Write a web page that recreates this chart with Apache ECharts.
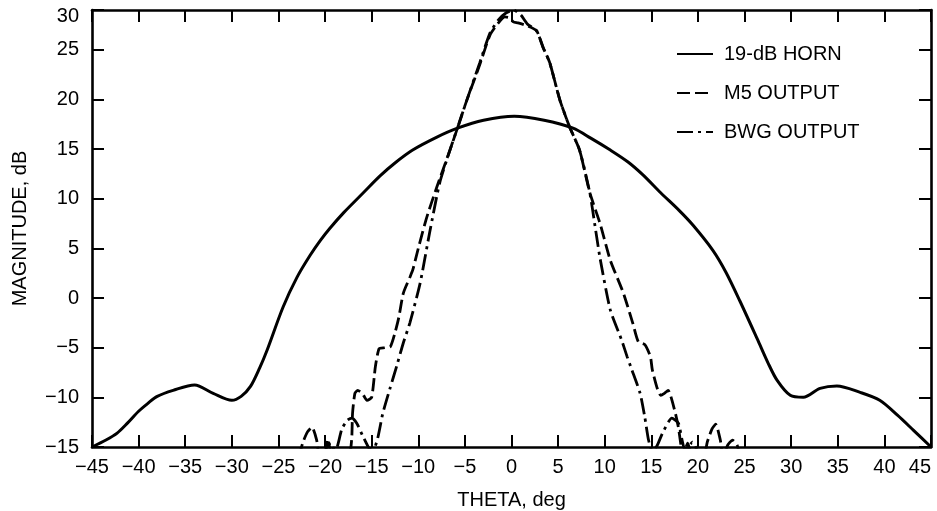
<!DOCTYPE html>
<html>
<head>
<meta charset="utf-8">
<script src="https://cdn.jsdelivr.net/npm/echarts@6/dist/echarts.min.js"></script>
<style>
  html, body { margin: 0; padding: 0; background: #fff; }
  #chart { width: 937px; height: 511px; }
</style>
</head>
<body>
<div id="chart"></div>
<script>
// 19-dB horn pattern (solid)
var hornTheta = [-45, -43.5, -42.3, -41.2, -40, -39, -38, -36.3, -34, -32, -30, -29, -28, -27, -26.2, -24.5, -23, -21.6, -20.5, -19.5, -18, -16, -14.1, -12.5, -10.6, -8, -5.8, -3, 0.3, 3.5, 6.6, 8.5, 10.6, 12.5, 14.1, 16, 18, 19.5, 21.6, 23, 24.5, 26.4, 27.5, 28.5, 29.9, 31.3, 33.1, 34.9, 37.4, 39.5, 41.4, 43.1, 45];
var hornMag = [-15, -14.3, -13.6, -12.6, -11.4, -10.6, -9.9, -9.3, -8.75, -9.6, -10.3, -9.9, -8.9, -7.0, -5.2, -0.9, 2.1, 4.3, 5.8, 7.0, 8.6, 10.5, 12.3, 13.6, 14.9, 16.2, 17.1, 17.9, 18.3, 17.9, 17.1, 16.1, 14.9, 13.7, 12.4, 10.6, 8.8, 7.3, 4.8, 2.6, -0.3, -4.2, -6.5, -8.3, -9.8, -10.0, -9.1, -8.85, -9.5, -10.3, -11.8, -13.3, -15];

// M5 output (dashed)
var m5Theta = [-22.8, -22.4, -21.9, -21.4, -20.9, -20.6, -20.1, -19.7, -19.2, -17.5, -17.15, -17.05, -16.8, -16.5, -16.0, -15.5, -15.0, -14.6, -14.2, -13.6, -13.0, -12.5, -12.1, -11.6, -10.9, -10.6, -10.0, -9.1, -8.0, -6.6, -5.8, -4.8, -3.4, -2.3, -1.4, -0.7, -0.2, 0.2, 0.7, 1.7, 2.7, 3.4, 4.1, 5.2, 6.2, 7.3, 8.4, 9.5, 10.6, 12.0, 13.0, 13.6, 14.3, 14.9, 15.1, 15.6, 16.0, 16.4, 16.8, 17.5, 17.9, 18.1, 18.4, 18.9, 19.4, 20.6, 21.0, 21.5, 21.9, 22.4, 22.7, 23.2, 23.7, 24.2, 24.5];
var m5Mag = [-16, -14.6, -13.5, -13.0, -14.3, -16, -16, -14.2, -16, -16, -14.3, -11.6, -9.6, -9.3, -9.6, -10.3, -10.0, -6.9, -5.1, -5.0, -4.9, -3.5, -2.0, 0.5, 2.1, 2.8, 5.0, 8.1, 11.2, 14.9, 17.1, 19.9, 23.5, 26.5, 27.7, 28.3, 28.2, 27.8, 27.7, 27.4, 26.9, 25.2, 23.7, 19.9, 17.3, 14.9, 10.6, 7.5, 3.8, 0.5, -2.5, -4.4, -4.7, -5.9, -7.2, -9.0, -9.8, -9.6, -9.3, -11.3, -13.0, -14.3, -16, -14.6, -16, -16, -14.5, -13.2, -12.7, -14.3, -16, -14.8, -14.3, -14.8, -16];

// BWG output (dash-dot)
var bwgTheta = [-20.3, -19.9, -19.4, -19.0, -18.7, -18.2, -17.6, -17.1, -16.6, -16.0, -15.3, -14.9, -14.4, -13.8, -13.0, -12.3, -11.6, -10.9, -9.8, -8.8, -7.7, -6.6, -5.8, -4.8, -3.4, -2.3, -1.4, -0.6, 0.2, 1.0, 1.7, 2.7, 3.4, 4.1, 5.2, 6.2, 7.3, 8.4, 9.0, 9.5, 10.6, 11.8, 12.4, 12.9, 13.8, 14.3, 14.7, 15.1, 15.6, 16.2, 17.2, 17.9, 18.3, 18.6, 19.0, 19.4, 19.9, 20.3];
var bwgMag = [-16, -15.2, -14.6, -15.3, -15.0, -13.2, -12.3, -12.1, -12.6, -13.8, -15.1, -15.4, -14.3, -11.6, -9.0, -6.8, -4.5, -2.5, 1.5, 6.5, 11.6, 14.9, 17.1, 19.9, 23.7, 26.7, 28.0, 28.7, 29.0, 28.5, 27.6, 26.9, 25.2, 23.7, 19.9, 17.3, 14.9, 10.6, 7.0, 4.0, -1.2, -4.2, -5.9, -7.2, -9.6, -12.0, -14.3, -15.4, -14.9, -13.6, -12.1, -12.6, -14.3, -15.3, -15.0, -14.5, -15.3, -16];

var seriesNames = ['19-dB HORN', 'M5 OUTPUT', 'BWG OUTPUT'];

function pairs(xs, ys) {
    return xs.map(function(x, i) { return [x, ys[i]]; });
}

function minus(v) {
    return String(v).replace('-', '\u2212');
}

var font = 'Liberation Sans, Arial, Helvetica, sans-serif';
var ink = '#000';
var frame = { show: true, onZero: false, lineStyle: { color: ink, width: 2.6 } };
var inTicks = { show: true, inside: true, length: 12, lineStyle: { color: ink, width: 2 } };

var chart = echarts.init(document.getElementById('chart'), null, { renderer: 'canvas' });

chart.setOption({
    animation: false,
    backgroundColor: '#fff',
    // fixed plot box, do not let v6 shrink it to fit the axis names
    grid: { left: 92, right: 6, top: 10, bottom: 64, containLabel: false, outerBoundsMode: 'none' },
    legend: {
        orient: 'vertical',
        left: 676,
        top: 44,
        padding: 0,
        itemWidth: 36,
        itemHeight: 14,
        itemGap: 19,
        selectedMode: false,
        data: seriesNames,
        itemStyle: { opacity: 0 },
        textStyle: { color: ink, fontSize: 20, fontFamily: font, padding: [0, 0, 0, 6] }
    },
    xAxis: [{
        type: 'value',
        min: -45, max: 45, interval: 5,
        name: 'THETA, deg',
        nameLocation: 'middle',
        nameGap: 43,
        nameTextStyle: { color: ink, fontSize: 20, fontFamily: font },
        axisLine: frame,
        axisTick: inTicks,
        axisLabel: { color: ink, fontSize: 20, fontFamily: font, margin: 10, formatter: minus, alignMaxLabel: 'right' },
        splitLine: { show: false }
    }, {
        type: 'value',
        position: 'top',
        min: -45, max: 45, interval: 5,
        axisLine: frame,
        axisTick: inTicks,
        axisLabel: { show: false },
        splitLine: { show: false }
    }],
    yAxis: [{
        type: 'value',
        min: -15, max: 29, interval: 5,
        name: 'MAGNITUDE, dB',
        nameLocation: 'middle',
        nameGap: 62,
        nameTextStyle: { color: ink, fontSize: 20, fontFamily: font },
        axisLine: frame,
        axisTick: inTicks,
        axisLabel: {
            color: ink, fontSize: 20, fontFamily: font, margin: 13,
            formatter: function(v) { return v > 27 ? '{top|30}' : minus(v); },
            rich: { top: { color: ink, fontSize: 20, fontFamily: font, padding: [12, 0, 0, 0] } }
        },
        splitLine: { show: false }
    }, {
        type: 'value',
        position: 'right',
        min: -15, max: 29, interval: 5,
        axisLine: frame,
        axisTick: inTicks,
        axisLabel: { show: false },
        splitLine: { show: false }
    }],
    series: [{
        name: seriesNames[0],
        type: 'line',
        data: pairs(hornTheta, hornMag),
        symbol: 'none',
        smooth: 0.3,
        clip: true,
        lineStyle: { color: ink, width: 3, type: 'solid' },
        itemStyle: { color: ink }
    }, {
        name: seriesNames[1],
        type: 'line',
        data: pairs(m5Theta, m5Mag),
        symbol: 'none',
        smooth: 0.2,
        clip: true,
        lineStyle: { color: ink, width: 2.8, type: [13, 5] },
        itemStyle: { color: ink }
    }, {
        name: seriesNames[2],
        type: 'line',
        data: pairs(bwgTheta, bwgMag),
        symbol: 'none',
        smooth: 0.2,
        clip: true,
        lineStyle: { color: ink, width: 2.8, type: [16, 5, 3, 5] },
        itemStyle: { color: ink }
    }]
});
</script>
</body>
</html>
